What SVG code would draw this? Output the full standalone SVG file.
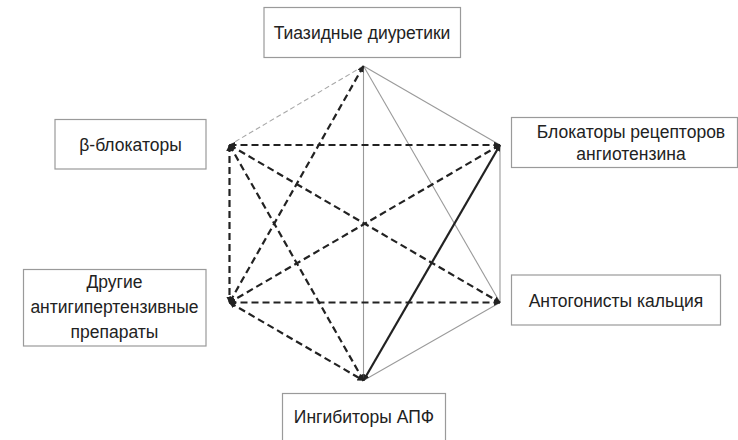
<svg xmlns="http://www.w3.org/2000/svg" width="738" height="440" viewBox="0 0 738 440">
<style>
.box{fill:#fff;stroke:#9a9a9a;stroke-width:1.2}
.lbl{font-family:"Liberation Sans",Arial,sans-serif;font-size:17.5px;fill:#222;text-anchor:middle}
.dk{stroke:#222;stroke-width:2.2;stroke-dasharray:7 4;fill:none;marker-end:url(#ah);marker-start:url(#ah)}
.sd{stroke:#222;stroke-width:2.2;fill:none;marker-end:url(#ah);marker-start:url(#ah)}
.gr{stroke:#9a9a9a;stroke-width:1.1;fill:none}
.gd{stroke:#a8a8a8;stroke-width:1.1;stroke-dasharray:5 3;fill:none}
</style>
<defs>
<marker id="ah" viewBox="0 0 10 10" refX="9" refY="5" markerWidth="3" markerHeight="3" orient="auto-start-reverse" markerUnits="strokeWidth">
<path d="M0,0 L10,5 L0,10 z" fill="#222"/>
</marker>
</defs>
<rect width="738" height="440" fill="#fff"/>
<g id="connectors">
<line class="gd" x1="363.5" y1="66" x2="229.5" y2="145"/>
<line class="gr" x1="363.5" y1="66" x2="363.5" y2="380.5"/>
<line class="gr" x1="363.5" y1="66" x2="500" y2="302.5"/>
<line class="gr" x1="363.5" y1="66" x2="500" y2="145"/>
<line class="gr" x1="500" y1="145" x2="500" y2="302.5"/>
<line class="gr" x1="500" y1="302.5" x2="363.5" y2="380.5"/>
<line class="dk" x1="363.5" y1="66" x2="229.5" y2="302.5"/>
<line class="dk" x1="229.5" y1="145" x2="500" y2="145"/>
<line class="dk" x1="229.5" y1="145" x2="229.5" y2="302.5"/>
<line class="dk" x1="229.5" y1="145" x2="500" y2="302.5"/>
<line class="dk" x1="229.5" y1="145" x2="363.5" y2="380.5"/>
<line class="dk" x1="500" y1="145" x2="229.5" y2="302.5"/>
<line class="dk" x1="229.5" y1="302.5" x2="500" y2="302.5"/>
<line class="dk" x1="229.5" y1="302.5" x2="363.5" y2="380.5"/>
<line class="sd" x1="500" y1="145" x2="363.5" y2="380.5"/>
</g>
<g id="node-thiazide">
<rect class="box" x="264" y="7.5" width="196.5" height="50"/>
<text class="lbl" x="362" y="38.5">Тиазидные диуретики</text>
</g>
<g id="node-beta">
<rect class="box" x="55" y="119.5" width="151" height="49.5"/>
<text class="lbl" x="130.5" y="151">β-блокаторы</text>
</g>
<g id="node-arb">
<rect class="box" x="511.5" y="117.5" width="226" height="50"/>
<text class="lbl" x="631" y="138">Блокаторы рецепторов</text>
<text class="lbl" x="631" y="160">ангиотензина</text>
</g>
<g id="node-other">
<rect class="box" x="23.5" y="269.5" width="182.5" height="76.5"/>
<text class="lbl" x="114.5" y="288">Другие</text>
<text class="lbl" x="114.5" y="313">антигипертензивные</text>
<text class="lbl" x="114.5" y="337.5">препараты</text>
</g>
<g id="node-calcium">
<rect class="box" x="511.5" y="275" width="209" height="50"/>
<text class="lbl" x="616" y="307">Антогонисты кальция</text>
</g>
<g id="node-ace">
<rect class="box" x="282.5" y="393.5" width="163" height="60"/>
<text class="lbl" x="364" y="423">Ингибиторы АПФ</text>
</g>
</svg>
